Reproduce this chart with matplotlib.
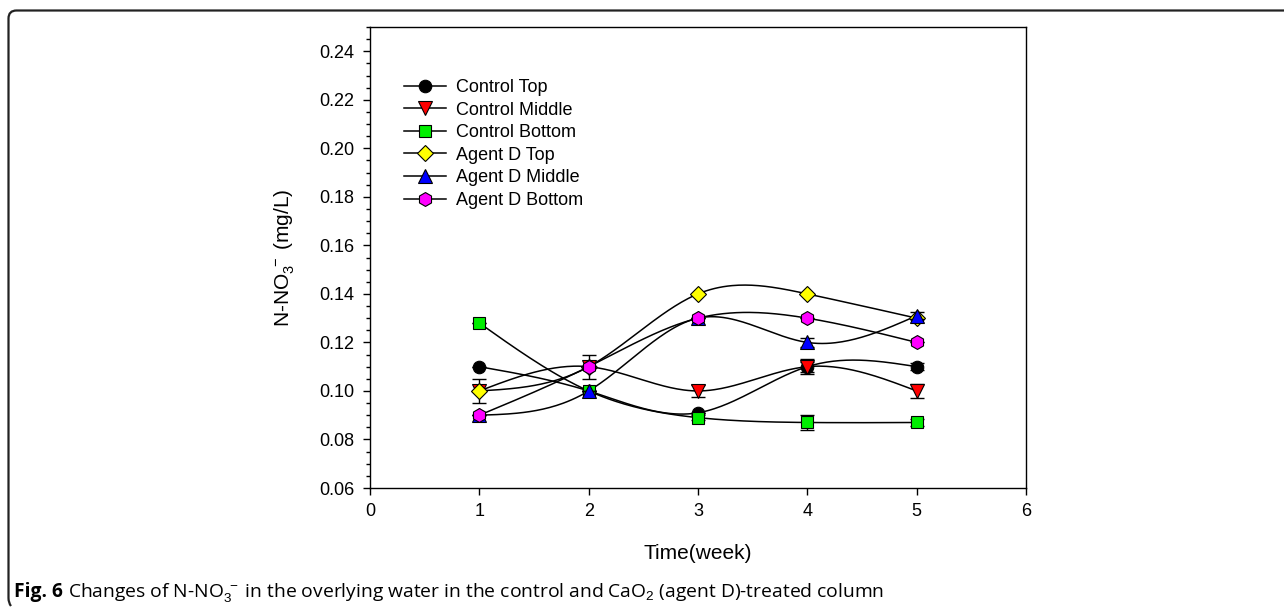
import numpy as np
import matplotlib
matplotlib.use("Agg")
import matplotlib.pyplot as plt
from matplotlib.path import Path
from matplotlib.patches import PathPatch

plt.rcParams['font.family'] = ['Liberation Sans', 'DejaVu Sans']
plt.rcParams['mathtext.fontset'] = 'custom'
plt.rcParams['mathtext.rm'] = 'Liberation Sans'
plt.rcParams['mathtext.it'] = 'Liberation Sans'
plt.rcParams['mathtext.bf'] = 'Liberation Sans:bold'

# ---- data ----
weeks = [1, 2, 3, 4, 5]
series_names = ["Control Top", "Control Middle", "Control Bottom",
                "Agent D Top", "Agent D Middle", "Agent D Bottom"]
control_top = [0.110, 0.100, 0.091, 0.110, 0.110]
control_middle = [0.100, 0.110, 0.100, 0.110, 0.100]
control_bottom = [0.128, 0.100, 0.089, 0.087, 0.087]
agent_top = [0.100, 0.110, 0.140, 0.140, 0.130]
agent_middle = [0.090, 0.100, 0.130, 0.120, 0.131]
agent_bottom = [0.090, 0.110, 0.130, 0.130, 0.120]

err_control_top = [0.0, 0.0, 0.0, 0.002, 0.0015]
err_control_middle = [0.005, 0.005, 0.0025, 0.003, 0.003]
err_control_bottom = [0.0, 0.0, 0.001, 0.003, 0.0015]
err_agent_top = [0.0, 0.0, 0.0, 0.0, 0.0]
err_agent_middle = [0.0, 0.0, 0.0, 0.002, 0.0015]
err_agent_bottom = [0.0, 0.0, 0.0, 0.0, 0.0]

values = [control_top, control_middle, control_bottom, agent_top, agent_middle, agent_bottom]
errors = [err_control_top, err_control_middle, err_control_bottom,
          err_agent_top, err_agent_middle, err_agent_bottom]
markers = ['o', 'v', 's', 'D', '^', 'h']
colors = ['#000000', '#ff0000', '#00ee00', '#ffff00', '#0000ff', '#ff00ff']
msizes = [9, 10, 9, 8.5, 10, 10]


def natural_spline(x, y, n=200):
    x = np.asarray(x, float)
    y = np.asarray(y, float)
    m = len(x)
    h = np.diff(x)
    A = np.zeros((m, m))
    b = np.zeros(m)
    A[0, 0] = 1
    A[-1, -1] = 1
    for i in range(1, m - 1):
        A[i, i - 1] = h[i - 1]
        A[i, i] = 2 * (h[i - 1] + h[i])
        A[i, i + 1] = h[i]
        b[i] = 3 * ((y[i + 1] - y[i]) / h[i] - (y[i] - y[i - 1]) / h[i - 1])
    c = np.linalg.solve(A, b)
    xs = np.linspace(x[0], x[-1], n)
    ys = np.empty_like(xs)
    for k, xv in enumerate(xs):
        i = min(np.searchsorted(x, xv, side='right') - 1, m - 2)
        dx = xv - x[i]
        bi = (y[i + 1] - y[i]) / h[i] - h[i] * (2 * c[i] + c[i + 1]) / 3
        di = (c[i + 1] - c[i]) / (3 * h[i])
        ys[k] = y[i] + bi * dx + c[i] * dx ** 2 + di * dx ** 3
    return xs, ys


W, H = 1284, 607
fig = plt.figure(figsize=(W / 100, H / 100), dpi=100)
ax = fig.add_axes([370 / W, 1 - 488 / H, (1026 - 370) / W, (488 - 27) / H])

for i, (name, vals, errs) in enumerate(zip(series_names, values, errors)):
    xs, ys = natural_spline(weeks, vals)
    ax.plot(xs, ys, color='black', lw=1.1, zorder=2)
    ax.errorbar(weeks, vals, yerr=errs, fmt='none', ecolor='black',
                elinewidth=1.0, capsize=5, capthick=1.0, zorder=3 + i)
    ax.plot(weeks, vals, linestyle='none', marker=markers[i], ms=msizes[i],
            mfc=colors[i], mec='black', mew=0.8, zorder=3 + i + 0.5)

# legend handles
handles = []
for i, name in enumerate(series_names):
    h, = ax.plot([], [], color='black', lw=1.1, marker=markers[i], ms=msizes[i],
                 mfc=colors[i], mec='black', mew=0.8, label=name)
    handles.append(h)
leg = ax.legend(handles=handles, loc='upper left', bbox_to_anchor=(0.041, 0.903),
                frameon=False, fontsize=13, handlelength=2.3, handletextpad=0.55,
                labelspacing=0.31, borderaxespad=0)

ax.set_xlim(0, 6)
ax.set_ylim(0.06, 0.25)
ax.set_xticks(range(0, 7))
ax.set_yticks(np.arange(0.06, 0.2401, 0.02))
ax.set_yticklabels([f"{v:.2f}" for v in np.arange(0.06, 0.2401, 0.02)])
ax.set_yticks(np.arange(0.06, 0.2501, 0.005), minor=True)
ax.tick_params(axis='both', which='major', direction='out', length=5, width=1,
               labelsize=13, pad=6)
ax.tick_params(axis='y', which='minor', direction='out', length=3, width=1)
for s in ax.spines.values():
    s.set_linewidth(1.0)

ax.set_xlabel("Time(week)", fontsize=15, labelpad=17)
ax.set_ylabel(r"N-NO$_3^{\ -}$ (mg/L)", fontsize=15, labelpad=16)

# figure frame (open on right)
r = 8
verts = [(W, 10.5), (8.5 + r, 10.5), (8.5, 10.5), (8.5, 10.5 + r), (8.5, 598), (8.5, 603), (11, 606)]
codes = [Path.MOVETO, Path.LINETO, Path.CURVE3, Path.CURVE3, Path.LINETO, Path.CURVE3, Path.CURVE3]
verts_fig = [(x / W, 1 - y / H) for x, y in verts]
patch = PathPatch(Path(verts_fig, codes), transform=fig.transFigure, fill=False,
                  lw=1.6, edgecolor='#222222')
fig.add_artist(patch)

# caption
cap_y = 1 - 597 / H
fs_cap = 13.85
t1 = fig.text(14 / W, cap_y, "Fig. 6", fontsize=fs_cap, fontweight='bold',
              family=['Open Sans', 'DejaVu Sans'], va='baseline', ha='left')
fig.canvas.draw()
ext = t1.get_window_extent()
x2 = (ext.x1 + 5) / W
fig.text(x2, cap_y,
         r"Changes of N-NO$_3^{\ -}$ in the overlying water in the control and CaO$_2$ (agent D)-treated column",
         fontsize=fs_cap, family=['Open Sans', 'DejaVu Sans'], va='baseline', ha='left')

fig.savefig("out.png", dpi=100)
